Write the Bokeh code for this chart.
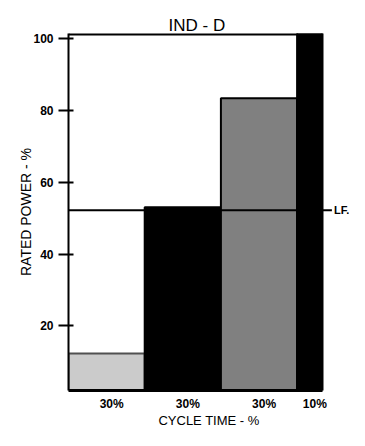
import numpy as np
from bokeh.plotting import figure
from bokeh.models import Range1d, FixedTicker, ColumnDataSource
from bokeh.embed import file_html
from bokeh.resources import INLINE

# ---- data ----
cycle_labels = ["30%", "30%", "30%", "10%"]
cycle_pct = [30, 30, 30, 10]
power_pct = [12.3, 53.0, 83.4, 102.0]
bar_fill = ["#cbcbcb", "#000000", "#808080", "#000000"]
bar_line = ["#505050", "#000000", "#000000", "#000000"]
lf_value = 52.2
y_ticks = [20, 40, 60, 80, 100]

edges = np.concatenate([[0], np.cumsum(cycle_pct)])
left = edges[:-1]
right = edges[1:]
total = float(edges[-1])
centers = (left + right) / 2

Y0, Y1 = 2.0, 101.4
X1 = total * 281 / 254

p = figure(width=349, height=430, output_backend="svg", toolbar_location=None,
           x_range=Range1d(0, X1), y_range=Range1d(Y0, Y1),
           min_border_left=68, min_border_top=33, min_border_bottom=38,
           min_border_right=0, x_axis_location="below")
p.outline_line_color = None
p.grid.grid_line_color = None
p.background_fill_color = "white"

# title
p.title.text = "IND - D"
p.title.align = "left"
p.title.offset = 100
p.title.standoff = -3
p.title.text_font = "Liberation Sans"
p.title.text_font_style = "normal"
p.title.text_font_size = "17px"
p.title.text_color = "black"

src = ColumnDataSource(dict(left=left, right=right, top=power_pct,
                            bottom=[Y0 - 5] * len(left), fill=bar_fill, line=bar_line))
p.quad(left="left", right="right", top="top", bottom="bottom", source=src,
       fill_color="fill", line_color="line", line_width=2)

# top frame line
p.segment(x0=[0], y0=[Y1], x1=[total], y1=[Y1], line_color="black", line_width=4)

# LF line
p.segment(x0=[0], y0=[lf_value], x1=[total + 3.7], y1=[lf_value],
          line_color="black", line_width=2)
p.text(x=[total + 4.5], y=[lf_value], text=["LF."], text_baseline="middle",
       text_align="left", text_font_size="11px", text_font_style="bold",
       text_font={"value": "Liberation Sans"}, text_color="black")

# y axis
ya = p.yaxis[0]
ya.ticker = FixedTicker(ticks=y_ticks)
ya.axis_line_width = 2
ya.axis_line_color = "black"
ya.major_tick_out = 10
ya.major_tick_in = 5
ya.major_tick_line_width = 2
ya.minor_tick_line_color = None
ya.major_label_standoff = 5
ya.major_label_text_font = "Liberation Sans"
ya.major_label_text_font_style = "bold"
ya.major_label_text_font_size = "12px"
ya.major_label_text_color = "black"
ya.axis_label = "RATED POWER - %"
ya.axis_label_standoff = -4
ya.axis_label_text_font = "Liberation Sans"
ya.axis_label_text_font_style = "normal"
ya.axis_label_text_font_size = "14px"
ya.axis_label_text_color = "black"

# x axis (bottom)
xa = p.xaxis[0]
xa.bounds = (0, total)
xa.ticker = FixedTicker(ticks=list(centers + 2))
xa.major_label_overrides = {float(c + 2): l for c, l in zip(centers, cycle_labels)}
xa.major_tick_line_color = None
xa.major_tick_out = 0
xa.major_tick_in = 0
xa.minor_tick_line_color = None
xa.axis_line_width = 3
xa.axis_line_color = "black"
xa.major_label_standoff = 6
xa.major_label_text_font = "Liberation Sans"
xa.major_label_text_font_style = "bold"
xa.major_label_text_font_size = "12px"
xa.major_label_text_color = "black"
xa.axis_label = "CYCLE TIME - %"
xa.axis_label_standoff = -1
xa.axis_label_text_font = "Liberation Sans"
xa.axis_label_text_font_style = "normal"
xa.axis_label_text_font_size = "13px"
xa.axis_label_text_color = "black"

open("out.html", "w").write(file_html(p, INLINE))
